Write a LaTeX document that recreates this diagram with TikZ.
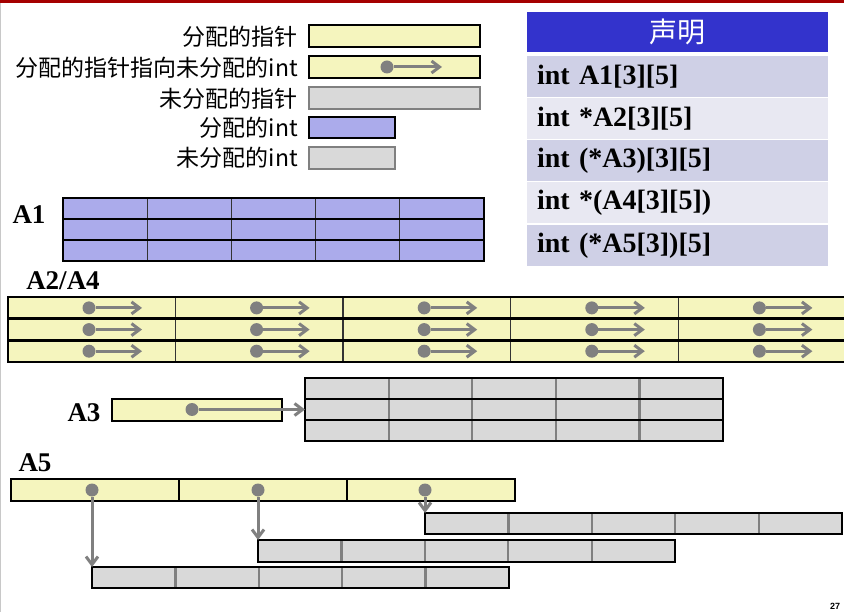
\documentclass[tikz,border=0pt]{standalone}
\usepackage{fontspec}
\setmainfont{Liberation Serif}
\newfontfamily\cjk{Noto Sans CJK SC}
\newfontfamily\pgnum{Liberation Sans}
\usetikzlibrary{arrows.meta,calc}
\definecolor{ptrY}{HTML}{F5F5BE}
\definecolor{intP}{HTML}{ABABEB}
\definecolor{uGray}{HTML}{D9D9D9}
\definecolor{aGray}{HTML}{808080}
\definecolor{hdrBlue}{HTML}{3333CC}
\definecolor{rowA}{HTML}{CFD0E6}
\definecolor{rowB}{HTML}{E8E8F2}
\definecolor{topRed}{HTML}{A50000}
\definecolor{edgeGray}{HTML}{C8C8C8}
\begin{document}
\begin{tikzpicture}[x=1pt,y=-1pt,
  box/.style={draw=black, line width=2.8pt, inner sep=0pt, outer sep=0pt, anchor=north west},
  yptr/.style={box, fill=ptrY},
  pint/.style={box, fill=intP},
  gint/.style={box, fill=uGray},
  divB/.style={draw=black!80, line width=1.4pt, shorten >=1.4pt, shorten <=1.4pt},
  divK/.style={draw=black, line width=2.8pt},
  divG/.style={draw=aGray, line width=2.2pt, shorten >=1.4pt, shorten <=1.4pt},
  dotn/.style={circle, fill=aGray, inner sep=0pt, outer sep=0pt, minimum size=13pt},
  parrow/.style={draw=aGray, line width=3pt, -{Straight Barb[length=8pt,width=12pt]}},
  legend/.style={anchor=east, inner sep=0pt, font=\cjk\fontsize{23}{27}\selectfont},
  lbl/.style={inner sep=0pt, font=\bfseries\fontsize{27}{30}\selectfont},
  trow/.style={anchor=north west, minimum width=301pt, minimum height=41pt, text width=281pt, inner xsep=10pt, inner ysep=0pt, outer sep=0pt, align=left, font=\bfseries\fontsize{28}{31}\selectfont},
]
\useasboundingbox (0,0) rectangle (844,612);
\clip (0,0) rectangle (844,612);
\fill[white] (0,0) rectangle (844,612);
% frame edges
\fill[topRed] (0,0) rectangle (844,3);
\fill[edgeGray] (0,3) rectangle (1.2,612);

% ---------------- legend ----------------
\node[yptr, minimum width=171pt, minimum height=22pt] (lg1) at (309,25) {};
\node[yptr, minimum width=171pt, minimum height=22pt] (lg2) at (309,56) {};
\node[gint, draw=aGray, minimum width=171pt, minimum height=22pt] (lg3) at (309,87) {};
\node[pint, minimum width=86pt, minimum height=21pt] (lg4) at (309,117) {};
\node[gint, draw=aGray, minimum width=86pt, minimum height=22pt] (lg5) at (309,147) {};
\node[dotn] (lgd) at (387,67) {};
\coordinate (lge) at (442,67);
\draw[parrow] (lgd) -- (lge);
\node[legend] (t1) at (298,37) {分配的指针};
\node[legend] (t2) at (298,67.5) {分配的指针指向未分配的int};
\node[legend] (t3) at (298,99) {未分配的指针};
\node[legend] (t4) at (298,127.5) {分配的int};
\node[legend] (t5) at (298,157.5) {未分配的int};

% ---------------- declaration table ----------------
\node[anchor=north west, fill=hdrBlue, minimum width=301pt, minimum height=40pt, inner sep=0pt, outer sep=0pt,
      text=white, font=\cjk\fontsize{28}{30}\selectfont] (hdr) at (527,12) {声明};
\node[trow, fill=rowA] (d1) at (527,56) {int A1[3][5]};
\node[trow, fill=rowB] (d2) at (527,98) {int *A2[3][5]};
\node[trow, fill=rowA] (d3) at (527,140) {int (*A3)[3][5]};
\node[trow, fill=rowB] (d4) at (527,182.5) {int *(A4[3][5])};
\node[trow, fill=rowA] (d5) at (527,225) {int (*A5[3])[5]};

% ---------------- A1 ----------------
\node[lbl] (la1) at (29,215) {A1};
\foreach \r/\y in {1/198,2/219,3/240} {
  \node[pint, minimum width=421pt, minimum height=21pt] (a1r\r) at (63,\y) {};
}
\foreach \r in {1,2,3} \foreach \i in {1,...,4} {
  \draw[divB] ($(a1r\r.north west)!\i/5!(a1r\r.north east)$) -- ($(a1r\r.south west)!\i/5!(a1r\r.south east)$);
}

% ---------------- A2/A4 ----------------
\node[lbl] (la2) at (63,281) {A2/A4};
\foreach \r/\y in {1/297,2/318.7,3/340.4} {
  \node[yptr, minimum width=838pt, minimum height=21.7pt] (a2r\r) at (8,\y) {};
}
\foreach \r in {1,2,3} \foreach \i in {1,...,4} {
  \draw[divB] ($(a2r\r.north west)!\i/5!(a2r\r.north east)$) -- ($(a2r\r.south west)!\i/5!(a2r\r.south east)$);
}
\foreach \r/\yc in {1/307.9,2/329.6,3/351.2} \foreach \c in {0,...,4} {
  \node[dotn] (a2d\r\c) at ({8+\c*167.6+81},\yc) {};
  \coordinate (a2e\r\c) at ({8+\c*167.6+134},\yc);
  \draw[parrow] (a2d\r\c) -- (a2e\r\c);
}

% ---------------- A3 ----------------
\node[lbl] (la3) at (84,413) {A3};
\node[yptr, minimum width=170pt, minimum height=22pt] (a3p) at (112,399) {};
\foreach \r/\y in {1/378,2/399,3/420} {
  \node[gint, minimum width=418pt, minimum height=21pt] (a3r\r) at (305,\y) {};
}
\foreach \r in {1,2,3} \foreach \i in {1,...,4} {
  \draw[divG] ($(a3r\r.north west)!\i/5!(a3r\r.north east)$) -- ($(a3r\r.south west)!\i/5!(a3r\r.south east)$);
}
\node[dotn] (a3d) at (192,409.5) {};
\draw[parrow] (a3d) -- (a3r2.west);

% ---------------- A5 ----------------
\node[lbl] (la5) at (35,463) {A5};
\node[yptr, minimum width=504pt, minimum height=22pt] (a5p) at (11,479) {};
\draw[divK] ($(a5p.north west)!1/3!(a5p.north east)$) -- ($(a5p.south west)!1/3!(a5p.south east)$);
\draw[divK] ($(a5p.north west)!2/3!(a5p.north east)$) -- ($(a5p.south west)!2/3!(a5p.south east)$);
\node[gint, minimum width=417pt, minimum height=21pt] (a5r1) at (92,567) {};
\node[gint, minimum width=417pt, minimum height=22pt] (a5r2) at (258,540) {};
\node[gint, minimum width=417pt, minimum height=21pt] (a5r3) at (425,513) {};
\foreach \r in {1,2,3} \foreach \i in {1,...,4} {
  \draw[divG] ($(a5r\r.north west)!\i/5!(a5r\r.north east)$) -- ($(a5r\r.south west)!\i/5!(a5r\r.south east)$);
}
\node[dotn] (a5d1) at (92,490) {};
\node[dotn] (a5d2) at (258,490) {};
\node[dotn] (a5d3) at (425,490) {};
\draw[parrow] (a5d1) -- (a5d1 |- a5r1.north);
\draw[parrow] (a5d2) -- (a5d2 |- a5r2.north);
\draw[parrow] (a5d3) -- (a5d3 |- a5r3.north);

% page number
\node[inner sep=0pt, font=\pgnum\bfseries\fontsize{9}{10}\selectfont] (pg) at (835,606) {27};
\end{tikzpicture}
\end{document}
